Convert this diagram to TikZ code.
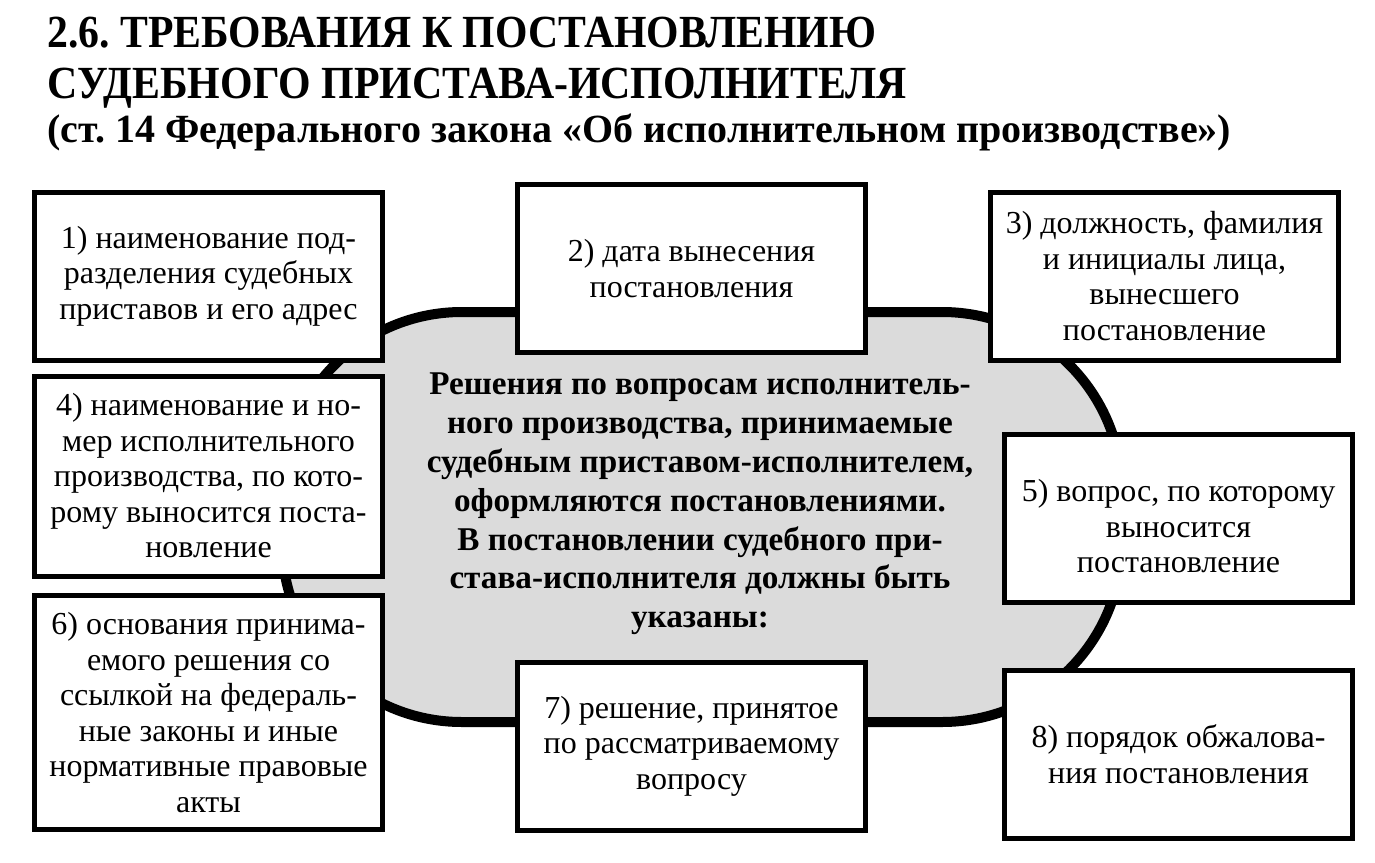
\documentclass[tikz,border=0pt]{standalone}
\usepackage{fontspec}
\setmainfont{Liberation Serif}
\frenchspacing
\begin{document}
\begin{tikzpicture}[x=0.5pt,y=-0.5pt,
  box/.style={draw=black, line width=2.5pt, fill=white, minimum width=174pt,
    align=center, inner sep=0pt, font=\fontsize{16}{17.75}\selectfont},
  ttl/.style={anchor=base west, inner sep=0pt, font=\bfseries\fontsize{23}{23}\selectfont},
  core/.style={draw=black, line width=5pt, fill=black!14, rounded corners=90pt}]
\useasboundingbox (0,0) rectangle (1375,862);
\fill[white] (0,0) rectangle (1375,862);
% titles
\node[ttl] (t1) at (47,47) {\scalebox{0.907}[1]{2.6. ТРЕБОВАНИЯ К ПОСТАНОВЛЕНИЮ}};
\node[ttl] (t2) at (47,98) {\scalebox{0.91}[1]{СУДЕБНОГО ПРИСТАВА-ИСПОЛНИТЕЛЯ}};
\node[ttl, font=\bfseries\fontsize{20}{20}\selectfont] (t3) at (47,142) {(ст. 14 Федерального закона «Об исполнительном производстве»)};
% central shape
\draw[core] (282,312) rectangle (1122,722);
\node[align=center, inner sep=0pt, font=\bfseries\fontsize{16.6}{19.4}\selectfont] (c) at (700,504)
  {Решения по вопросам исполнитель-\\ного производства, принимаемые\\судебным приставом-исполнителем,\\оформляются постановлениями.\\В постановлении судебного при-\\става-исполнителя должны быть\\указаны:};
% boxes
\node[box, minimum height=84pt] (b1) at (208.5,276) {1) наименование под-\\разделения судебных\\приставов и его адрес};
\node[box, minimum height=84pt] (b2) at (691.5,268.5) {2) дата вынесения\\постановления};
\node[box, minimum height=84pt] (b3) at (1164.5,276) {3) должность, фамилия\\и инициалы лица,\\вынесшего\\постановление};
\node[box, minimum height=100pt] (b4) at (208.5,476) {4) наименование и но-\\мер исполнительного\\производства, по кото-\\рому выносится поста-\\новление};
\node[box, minimum height=84pt] (b5) at (1178.5,518.5) {\rule{0pt}{19pt}5) вопрос, по которому\\выносится\\постановление};
\node[box, minimum height=117pt] (b6) at (208.5,712.5) {6) основания принима-\\емого решения со\\ссылкой на федераль-\\ные законы и иные\\нормативные правовые\\акты};
\node[box, minimum height=84pt] (b7) at (691.5,746) {7) решение, принятое\\по рассматриваемому\\вопросу};
\node[box, minimum height=84pt] (b8) at (1178.5,754) {8) порядок обжалова-\\ния постановления};
\end{tikzpicture}
\end{document}
